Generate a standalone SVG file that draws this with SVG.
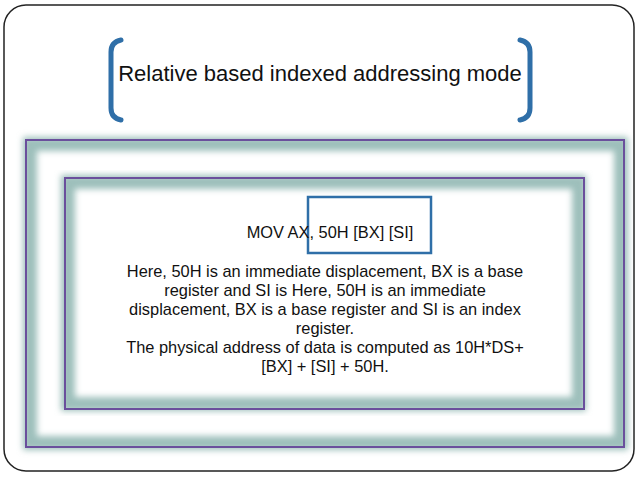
<svg xmlns="http://www.w3.org/2000/svg" width="638" height="479" viewBox="0 0 638 479">
<defs>
<style>
.t{font-family:"Liberation Sans",Arial,sans-serif;font-size:16.4px;fill:#111;text-anchor:middle}
.glow{fill:none;stroke:#9dbfbb;stroke-width:14}
.pur{fill:none;stroke:#6a4f9c;stroke-width:2}
.br{fill:none;stroke:#2f6fa8;stroke-width:5;stroke-linecap:round}
</style>
<filter id="b" x="-5%" y="-5%" width="110%" height="110%"><feGaussianBlur stdDeviation="3"/></filter>
</defs>
<rect width="638" height="479" fill="#fff"/>
<rect x="4" y="5" width="630" height="466" rx="22" fill="#fff" stroke="#222" stroke-width="1.5"/>
<g id="title">
<path class="br" d="M121 40 Q111 42 111 52 V108 Q111 118 121 120"/>
<path class="br" d="M520 40 Q530 42 530 52 V108 Q530 118 520 120"/>
<text x="320" y="81" font-family="Liberation Sans,sans-serif" font-size="22" text-anchor="middle" fill="#111">Relative based indexed addressing mode</text>
</g>
<g id="outer-frame">
<rect class="glow" x="30" y="144" width="591" height="299" filter="url(#b)"/>
<rect class="pur" x="26" y="140" width="598" height="307"/>
</g>
<g id="inner-frame">
<rect class="glow" x="68" y="182" width="511" height="222" filter="url(#b)"/>
<rect class="pur" x="65" y="178" width="519" height="231"/>
</g>
<g id="highlight">
<rect x="308" y="197" width="123" height="56" fill="none" stroke="#2f6fa8" stroke-width="2.5"/>
</g>
<g id="content">
<text class="t" x="330" y="238">MOV AX, 50H [BX] [SI]</text>
<text class="t" x="325" y="277">Here, 50H is an immediate displacement, BX is a base</text>
<text class="t" x="325" y="296">register and SI is Here, 50H is an immediate</text>
<text class="t" x="325" y="315">displacement, BX is a base register and SI is an index</text>
<text class="t" x="325" y="334">register.</text>
<text class="t" x="325" y="353">The physical address of data is computed as 10H*DS+</text>
<text class="t" x="325" y="372">[BX] + [SI] + 50H.</text>
</g>
<g id="connectors"/>
</svg>
